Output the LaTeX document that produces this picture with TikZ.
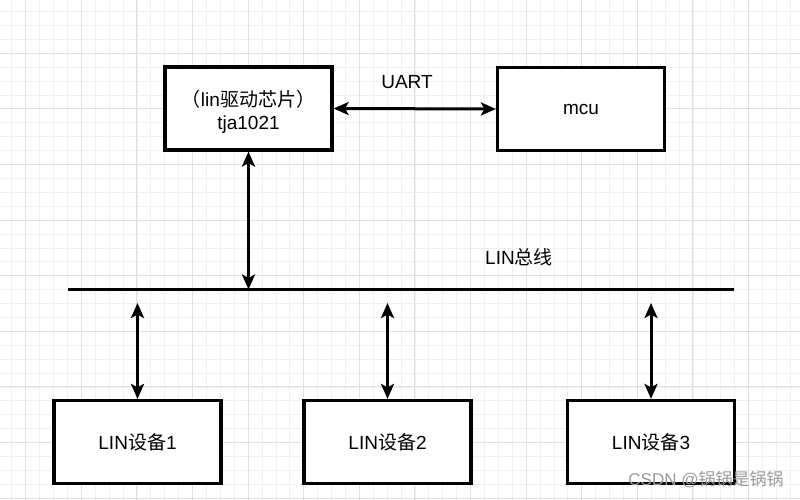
\documentclass[tikz,border=0pt]{standalone}
\usepackage{fontspec}
\setmainfont{Liberation Sans}
\newfontfamily\cjk{Noto Sans CJK SC}
\usetikzlibrary{arrows.meta}
\tikzset{
  minorgrid/.style={draw=black!6, line width=0.8pt},
  majorgrid/.style={draw=black!12, line width=1pt},
  blockbox/.style={draw=black, fill=white, line width=3.2pt, rectangle, inner sep=0pt,
    minimum width=167pt, minimum height=83pt, font=\fontsize{19}{23}\selectfont, align=center},
  textlbl/.style={font=\fontsize{19}{23}\selectfont, inner sep=0pt, align=center},
  link/.style={line width=3pt, {Stealth[length=15pt,width=13pt,inset=3.5pt]}-{Stealth[length=15pt,width=13pt,inset=3.5pt]}},
  busline/.style={line width=3pt},
  wmark/.style={font=\fontsize{17}{20}\selectfont, text=black!40, inner sep=0pt}
}
\begin{document}
\begin{tikzpicture}[x=1pt,y=-1pt]
\useasboundingbox (0,0) rectangle (800,500);
\fill[white] (0,0) rectangle (800,500);
\begin{scope}
\clip (0,0) rectangle (800,500);
\foreach \i in {0,...,58} {
  \draw[minorgrid] ({-2.1+\i*13.9},0) -- ({-2.1+\i*13.9},500);
}
\foreach \i in {0,...,37} {
  \draw[minorgrid] (0,{-2.3+\i*13.9}) -- (800,{-2.3+\i*13.9});
}
\foreach \i in {0,...,15} {
  \draw[majorgrid] ({-2.1+2*13.9+\i*55.6},0) -- ({-2.1+2*13.9+\i*55.6},500);
}
\foreach \i in {0,...,9} {
  \draw[majorgrid] (0,{-2.3+\i*55.6}) -- (800,{-2.3+\i*55.6});
}
\end{scope}

\node[blockbox] (tja) at (248.5,108.5) {};
\node[textlbl] (tjatext) at (248.5,111.5) {{\cjk （}lin{\cjk 驱动芯片）}\\tja1021};
\node[blockbox] (mcu) at (581,109) {mcu};
\node[blockbox] (dev1) at (137.5,442) {LIN{\cjk 设备}1};
\node[blockbox] (dev2) at (387.5,442) {LIN{\cjk 设备}2};
\node[blockbox] (dev3) at (651,442) {LIN{\cjk 设备}3};

\node[textlbl] (uart) at (407,82) {UART};
\node[textlbl] (buslabel) at (519,257) {LIN{\cjk 总线}};

\coordinate (busL) at (68,289.5);
\coordinate (busR) at (734,289.5);
\draw[busline] (busL) -- (busR);

\coordinate (t1) at (137.5,303);
\coordinate (t2) at (387.5,303);
\coordinate (t3) at (651,303);
\coordinate (tb) at (248.5,289.5);

\draw[link] (tja.east) -- (mcu.west);
\draw[link] (tja.south) -- (tb);
\draw[link] (t1) -- (dev1.north);
\draw[link] (t2) -- (dev2.north);
\draw[link] (t3) -- (dev3.north);

\node[wmark] (wm) at (706,480) {CSDN @{\cjk 锅锅是锅锅}};
\end{tikzpicture}
\end{document}
